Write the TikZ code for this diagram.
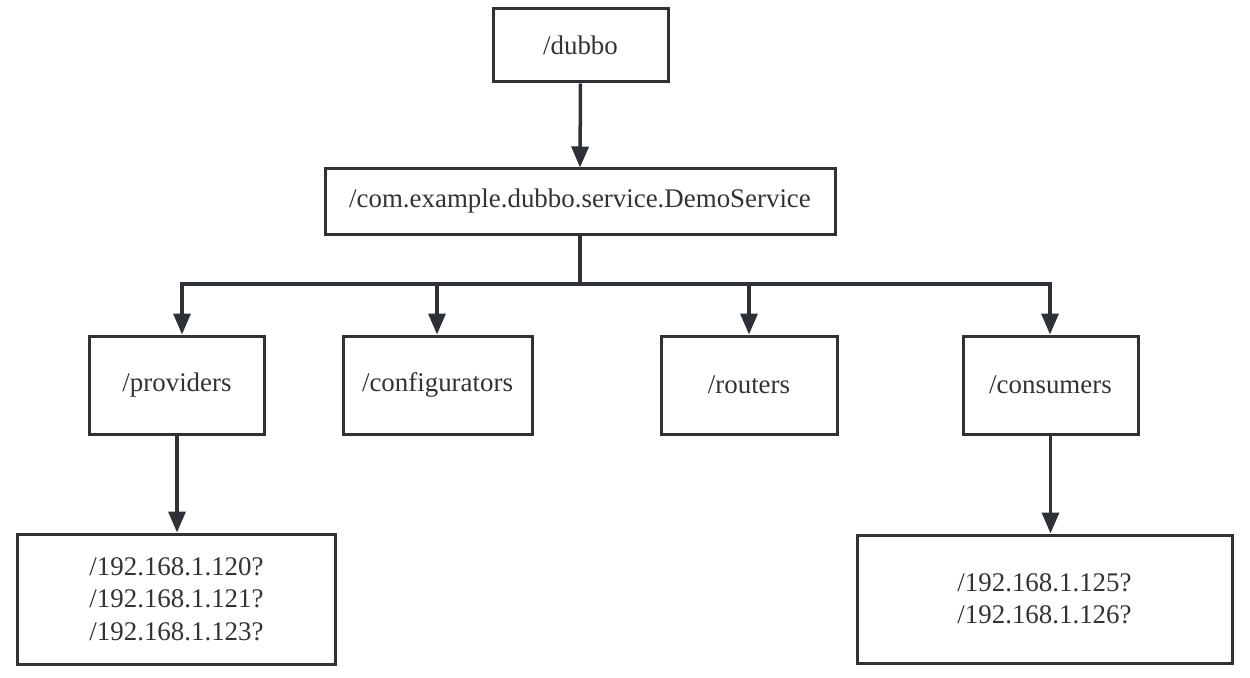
\documentclass[tikz,border=0pt]{standalone}
\usepackage{fontspec}
\setmainfont{Liberation Serif}
\usetikzlibrary{arrows.meta}
\definecolor{ink}{HTML}{2E3135}
\definecolor{txt}{HTML}{333333}
\begin{document}
\begin{tikzpicture}[x=1bp,y=-1bp,
  box/.style={draw=ink,line width=3bp,fill=white,text=txt,align=center,inner sep=0pt,
    font=\fontsize{27}{32.5}\selectfont},
  arr/.style={draw=ink,line width=3.5bp,-{Triangle[width=17bp,length=21bp]}},
  ln/.style={draw=ink,line width=3.5bp}]
\useasboundingbox[fill=white] (0,0) rectangle (1250,678);
\node[box,minimum width=175bp,minimum height=73bp] (dubbo) at (580.5,45.5) {/dubbo};
\node[box,minimum width=510bp,minimum height=65bp] (demo) at (580,201.5) {/com.example.dubbo.service.DemoService};
\node[box,minimum width=174bp,minimum height=98bp] (prov) at (177,385) {/providers};
\node[box,minimum width=189bp,minimum height=98bp] (conf) at (437.5,385) {/configurators};
\node[box,minimum width=176bp,minimum height=98bp] (rout) at (749,385) {/routers};
\node[box,minimum width=175bp,minimum height=98bp] (cons) at (1050.5,385) {/consumers};
\node[box,minimum width=317bp,minimum height=130bp] (pip) at (176.5,599) {/192.168.1.120?\\/192.168.1.121?\\/192.168.1.123?};
\node[box,minimum width=375bp,minimum height=128bp] (cip) at (1044.5,599) {/192.168.1.125?\\/192.168.1.126?};
\coordinate (bus) at (580,284);
\coordinate (t1) at (182,284);
\coordinate (t2) at (437,284);
\coordinate (t3) at (749,284);
\coordinate (t4) at (1050,284);
\draw[arr] (dubbo.south) -- (demo.north);
\draw[ln] (demo.south) -- (bus);
\draw[ln,line cap=rect] (t1) -- (t4);
\draw[arr] (t1) -- (t1 |- prov.north);
\draw[arr] (t2) -- (t2 |- conf.north);
\draw[arr] (t3) -- (t3 |- rout.north);
\draw[arr] (t4) -- (t4 |- cons.north);
\draw[arr] (prov.south) -- (prov.south |- pip.north);
\draw[arr] (cons.south) -- (cons.south |- cip.north);
\end{tikzpicture}
\end{document}
